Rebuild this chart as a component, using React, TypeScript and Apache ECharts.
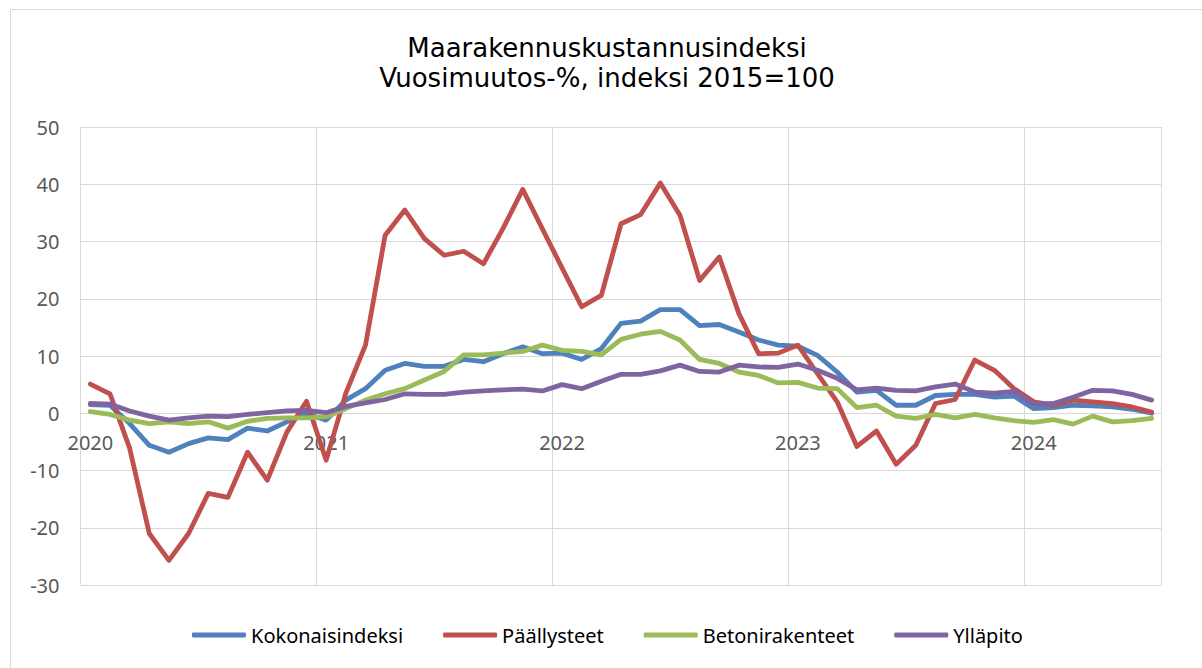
import { useEffect, useRef } from "react";
import * as echarts from "echarts";

const years = ["2020", "2021", "2022", "2023", "2024"];
const monthNums = ["01", "02", "03", "04", "05", "06", "07", "08", "09", "10", "11", "12"];
const categories: string[] = [];
years.forEach((y) => monthNums.forEach((m) => categories.push(`${y}-${m}`)));
categories.splice(55);

const seriesNames = ["Kokonaisindeksi", "Päällysteet", "Betonirakenteet", "Ylläpito"];

const kokonaisindeksi = [
  1.5, 1.4, -1.8, -5.6, -6.8, -5.3, -4.3, -4.6, -2.6, -3.1, -1.5, -0.1,
  -1.2, 2.3, 4.3, 7.5, 8.7, 8.2, 8.2, 9.4, 9.0, 10.4, 11.6, 10.4,
  10.5, 9.4, 11.3, 15.7, 16.1, 18.1, 18.1, 15.3, 15.5, 14.2, 12.8, 11.9,
  11.7, 10.1, 7.2, 3.7, 4.0, 1.4, 1.4, 3.1, 3.3, 3.3, 2.8, 3.0,
  0.8, 1.0, 1.4, 1.3, 1.1, 0.7, 0.0,
];
const paallysteet = [
  5.1, 3.4, -6.1, -21.0, -25.7, -21.0, -14.0, -14.7, -6.8, -11.7, -3.3, 2.1,
  -8.2, 3.5, 11.9, 31.1, 35.5, 30.5, 27.6, 28.3, 26.1, 32.3, 39.1, 32.2,
  25.4, 18.6, 20.6, 33.1, 34.7, 40.2, 34.6, 23.2, 27.3, 17.4, 10.4, 10.5,
  11.9, 6.9, 2.0, -5.8, -3.1, -8.9, -5.6, 1.7, 2.4, 9.3, 7.5, 4.3,
  2.0, 1.4, 2.3, 2.0, 1.7, 1.1, 0.2,
];
const betonirakenteet = [
  0.3, -0.2, -1.2, -1.8, -1.5, -1.8, -1.5, -2.6, -1.4, -0.9, -0.8, -0.8,
  -0.6, 0.8, 2.3, 3.4, 4.3, 5.8, 7.3, 10.2, 10.2, 10.5, 10.8, 11.9,
  11.0, 10.8, 10.2, 12.9, 13.8, 14.3, 12.8, 9.4, 8.7, 7.2, 6.6, 5.3,
  5.4, 4.4, 4.3, 1.0, 1.4, -0.5, -0.9, -0.2, -0.8, -0.2, -0.8, -1.3,
  -1.6, -1.1, -1.9, -0.5, -1.5, -1.3, -0.9,
];
const yllapito = [
  1.7, 1.6, 0.4, -0.5, -1.2, -0.8, -0.5, -0.6, -0.2, 0.1, 0.4, 0.5,
  0.1, 1.2, 1.8, 2.4, 3.4, 3.3, 3.3, 3.7, 3.9, 4.1, 4.2, 3.9,
  5.0, 4.3, 5.6, 6.8, 6.8, 7.4, 8.4, 7.3, 7.2, 8.4, 8.1, 8.0,
  8.6, 7.5, 6.1, 4.1, 4.4, 4.0, 3.9, 4.6, 5.1, 3.7, 3.5, 3.8,
  1.6, 1.7, 2.8, 4.0, 3.9, 3.3, 2.3,
];

const seriesData = [kokonaisindeksi, paallysteet, betonirakenteet, yllapito];
const colors = ["#4F81BD", "#C0504D", "#9BBB59", "#8064A2"];

const titleLine1 = "Maarakennuskustannusindeksi";
const titleLine2 = "Vuosimuutos-%, indeksi 2015=100";

export default function App() {
  const ref = useRef<HTMLDivElement>(null);
  useEffect(() => {
    if (!ref.current) return;
    const chart = echarts.init(ref.current, undefined, { renderer: "svg" });
    const labelFont = "'Noto Sans', sans-serif";
    chart.setOption({
      animation: false,
      backgroundColor: "#ffffff",
      color: colors,
      graphic: [
        {
          type: "rect",
          silent: true,
          z: -10,
          shape: { x: 10.5, y: 9.5, width: 1400, height: 900 },
          style: { fill: "none", stroke: "#d9d9d9", lineWidth: 1 },
        },
        {
          type: "text",
          x: 607,
          y: 48,
          style: {
            text: titleLine1,
            fontFamily: "'DejaVu Sans', sans-serif",
            fontSize: 26,
            fill: "#000000",
            align: "center",
            verticalAlign: "middle",
          },
        },
        {
          type: "text",
          x: 607,
          y: 78,
          style: {
            text: titleLine2,
            fontFamily: "'DejaVu Sans', sans-serif",
            fontSize: 26,
            fill: "#000000",
            align: "center",
            verticalAlign: "middle",
          },
        },
      ],
      grid: { left: 80.5, right: 40.5, top: 127, bottom: 83 },
      legend: {
        data: seriesNames,
        left: 192,
        top: 625,
        padding: 0,
        icon: "roundRect",
        itemWidth: 54,
        itemHeight: 5,
        itemGap: 40,
        textStyle: { fontFamily: labelFont, fontSize: 20, color: "#000000" },
      },
      xAxis: {
        type: "category",
        data: categories,
        boundaryGap: true,
        position: "bottom",
        offset: -172,
        axisLine: { show: false, onZero: false },
        axisTick: { show: false },
        axisLabel: {
          interval: (i: number) => i % 12 === 0,
          formatter: (v: string) => v.slice(0, 4),
          margin: 19,
          fontFamily: labelFont,
          fontSize: 20,
          color: "#595959",
        },
        splitLine: {
          show: true,
          interval: (i: number) => i % 12 === 0,
          lineStyle: { color: "#d9d9d9", width: 1 },
        },
      },
      yAxis: {
        type: "value",
        min: -30,
        max: 50,
        interval: 10,
        axisLine: { show: false },
        axisTick: { show: false },
        axisLabel: {
          margin: 21,
          fontFamily: labelFont,
          fontSize: 20,
          color: "#595959",
        },
        splitLine: { show: true, lineStyle: { color: "#d9d9d9", width: 1 } },
      },
      series: seriesNames.map((name, idx) => ({
        name,
        type: "line",
        data: seriesData[idx],
        symbol: "none",
        showSymbol: false,
        lineStyle: { width: 4.8, join: "round", cap: "round", color: colors[idx] },
        itemStyle: { color: colors[idx] },
      })),
    });
    return () => chart.dispose();
  }, []);
  return (
    <div
      ref={ref}
      style={{ position: "fixed", left: 0, top: 0, width: 1202, height: 668 }}
    />
  );
}
